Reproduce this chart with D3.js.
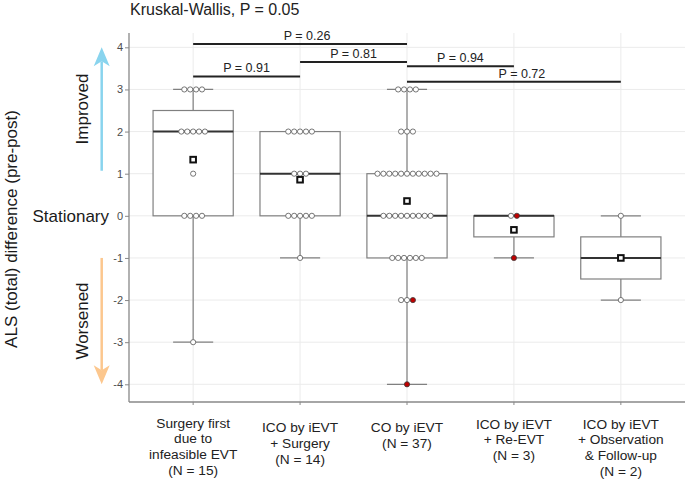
<!DOCTYPE html>
<html>
<head>
<meta charset="utf-8">
<script src="https://cdn.jsdelivr.net/npm/d3@7"></script>
<style>
  html, body { margin: 0; padding: 0; background: #fff; }
  svg { display: block; font-family: "Liberation Sans", Arial, sans-serif; }
</style>
</head>
<body>
<svg id="chart" width="685" height="484"></svg>
<script>
// ---------------- data ----------------
const categories = ["Surgery first", "ICO + Surgery", "CO", "ICO + Re-EVT", "ICO + Observation"];
const categoryLabels = [
  ["Surgery first", "due to", "infeasible EVT", "(N = 15)"],
  ["ICO by iEVT", "+ Surgery", "(N = 14)"],
  ["CO by iEVT", "(N = 37)"],
  ["ICO by iEVT", "+ Re-EVT", "(N = 3)"],
  ["ICO by iEVT", "+ Observation", "& Follow-up", "(N = 2)"]
];
// ALS (total) difference per patient, each group
const surgeryFirst = [3, 3, 3, 3, 2, 2, 2, 2, 2, 1, 0, 0, 0, 0, -3];
const icoSurgery   = [2, 2, 2, 2, 2, 1, 1, 1, 0, 0, 0, 0, 0, -1];
const coEVT        = [3, 3, 3, 3, 2, 2, 2,
                      1, 1, 1, 1, 1, 1, 1, 1, 1, 1, 1,
                      0, 0, 0, 0, 0, 0, 0, 0, 0,
                      -1, -1, -1, -1, -1, -1, -2, -2, -2, -4];
const icoReEVT     = [0, 0, -1];
const icoObs       = [0, -2];
const groupValues = [surgeryFirst, icoSurgery, coEVT, icoReEVT, icoObs];
// values at which one patient is highlighted (red)
const redValues = [[], [], [-2, -4], [0, -1], []];

const yTicks = [-4, -3, -2, -1, 0, 1, 2, 3, 4];
const title = "Kruskal-Wallis, P = 0.05";
const pLabels = ["P = 0.26", "P = 0.91", "P = 0.81", "P = 0.94", "P = 0.72"];
const pPairs  = [[0, 2], [0, 1], [1, 2], [2, 3], [2, 4]];
const pLevels = [4.08, 3.31, 3.65, 3.55, 3.18];

// ---------------- layout ----------------
const svg = d3.select("#chart");
const panel = { left: 129, right: 685, top: 33, bottom: 402 };
const font = '"Liberation Sans", Arial, sans-serif';

const x = d3.scaleBand().domain(categories)
  .range([panel.left, panel.right]).paddingInner(0).paddingOuter(0.1);
const cx = i => x(categories[i]) + x.bandwidth() / 2;
const y = d3.scaleLinear().domain([-4.42, 4.34]).range([panel.bottom, panel.top]);

const boxW = x.bandwidth() * 0.75;
const capW = boxW / 2;

// grid
const grid = svg.append("g");
grid.selectAll("line.h").data(yTicks).join("line")
  .attr("x1", panel.left).attr("x2", panel.right)
  .attr("y1", d => y(d)).attr("y2", d => y(d))
  .attr("stroke", "#ebebeb").attr("stroke-width", 1);
grid.selectAll("line.v").data(categories).join("line")
  .attr("x1", (d, i) => cx(i)).attr("x2", (d, i) => cx(i))
  .attr("y1", panel.top).attr("y2", panel.bottom)
  .attr("stroke", "#ebebeb").attr("stroke-width", 1);

// axes
const yAxis = svg.append("g").attr("transform", `translate(${panel.left},0)`)
  .call(d3.axisLeft(y).tickValues(yTicks).tickSize(4).tickSizeOuter(0).tickFormat(d => String(d)));
yAxis.select(".domain").remove();
yAxis.selectAll(".tick line").attr("stroke", "#888");
yAxis.selectAll(".tick text").attr("fill", "#4d4d4d").attr("font-size", 11)
  .attr("font-family", font).attr("x", -6);
svg.append("line").attr("x1", panel.left).attr("x2", panel.left)
  .attr("y1", panel.top).attr("y2", panel.bottom)
  .attr("stroke", "#888").attr("stroke-width", 1.3);

const xAxis = svg.append("g").attr("transform", `translate(0,${panel.bottom})`)
  .call(d3.axisBottom(x).tickSize(3).tickSizeOuter(0).tickFormat(""));
xAxis.select(".domain").remove();
xAxis.selectAll(".tick line").attr("stroke", "#888");
svg.append("line").attr("x1", panel.left).attr("x2", panel.right)
  .attr("y1", panel.bottom).attr("y2", panel.bottom)
  .attr("stroke", "#888").attr("stroke-width", 1.3);

// x labels (multi-line)
const labelShift = [-2, 2.5, 2.5, -1, -1];
categoryLabels.forEach((lines, i) => {
  const t = svg.append("text").attr("text-anchor", "middle")
    .attr("font-size", 13.7).attr("fill", "#222").attr("font-family", font);
  lines.forEach((ln, j) => {
    t.append("tspan").attr("x", cx(i)).attr("y", 429.5 + labelShift[i] + j * 15.8).text(ln);
  });
});

// box plots
const boxes = svg.append("g");
groupValues.forEach((vals, i) => {
  const s = vals.slice().sort(d3.ascending);
  const q1 = d3.quantile(s, 0.25), med = d3.quantile(s, 0.5), q3 = d3.quantile(s, 0.75);
  const iqr = q3 - q1;
  const lo = d3.min(s.filter(v => v >= q1 - 1.5 * iqr));
  const hi = d3.max(s.filter(v => v <= q3 + 1.5 * iqr));
  const c = cx(i);
  const g = boxes.append("g");
  const gray = "#808080";
  g.append("line").attr("x1", c).attr("x2", c).attr("y1", y(q3)).attr("y2", y(hi))
    .attr("stroke", gray).attr("stroke-width", 1.2);
  g.append("line").attr("x1", c).attr("x2", c).attr("y1", y(q1)).attr("y2", y(lo))
    .attr("stroke", gray).attr("stroke-width", 1.2);
  [lo, hi].forEach(v => g.append("line")
    .attr("x1", c - capW / 2).attr("x2", c + capW / 2).attr("y1", y(v)).attr("y2", y(v))
    .attr("stroke", gray).attr("stroke-width", 1.2));
  g.append("rect").attr("x", c - boxW / 2).attr("width", boxW)
    .attr("y", y(q3)).attr("height", Math.max(0, y(q1) - y(q3)))
    .attr("fill", "#fff").attr("stroke", gray).attr("stroke-width", 1.2);
  g.append("line").attr("x1", c - boxW / 2).attr("x2", c + boxW / 2)
    .attr("y1", y(med)).attr("y2", y(med)).attr("stroke", "#333").attr("stroke-width", 2);

  // dot plot (centered stacks)
  const counts = d3.rollups(vals, v => v.length, d => d);
  const spacing = 5.9;
  counts.forEach(([v, n]) => {
    const reds = redValues[i].filter(r => r === v).length;
    for (let k = 0; k < n; k++) {
      const px = c + (k - (n - 1) / 2) * spacing;
      const isRed = k >= n - reds;
      g.append("circle").attr("cx", px).attr("cy", y(v)).attr("r", 2.6)
        .attr("fill", isRed ? "#c00000" : "#fff")
        .attr("stroke", isRed ? "#3a3a3a" : "#555").attr("stroke-width", 0.8);
    }
  });

  // mean
  const m = d3.mean(vals);
  const sq = 5.6;
  g.append("rect").attr("x", c - sq / 2).attr("y", y(m) - sq / 2)
    .attr("width", sq).attr("height", sq)
    .attr("fill", "#fff").attr("stroke", "#111").attr("stroke-width", 2);
});

// comparison brackets
const labelNudge = [7, 0, 0, 0, 8];
pPairs.forEach((pr, k) => {
  const yy = y(pLevels[k]);
  svg.append("line").attr("x1", cx(pr[0])).attr("x2", cx(pr[1]))
    .attr("y1", yy).attr("y2", yy).attr("stroke", "#222").attr("stroke-width", 2);
  svg.append("text").attr("x", (cx(pr[0]) + cx(pr[1])) / 2 + labelNudge[k]).attr("y", yy - 4)
    .attr("text-anchor", "middle").attr("font-size", 12.5).attr("fill", "#222")
    .attr("font-family", font).text(pLabels[k]);
});

// title
svg.append("text").attr("x", 130).attr("y", 14.5).attr("font-size", 16)
  .attr("fill", "#222").attr("font-family", font).text(title);

// y axis title and side annotations
svg.append("text").attr("transform", "translate(17,229) rotate(-90)")
  .attr("text-anchor", "middle").attr("font-size", 17).attr("fill", "#1a1a1a")
  .attr("font-family", font).text("ALS (total) difference (pre-post)");
svg.append("text").attr("x", 109).attr("y", y(0) + 6).attr("text-anchor", "end")
  .attr("font-size", 17).attr("fill", "#1a1a1a").attr("font-family", font).text("Stationary");
svg.append("text").attr("transform", "translate(88,109) rotate(-90)")
  .attr("text-anchor", "middle").attr("font-size", 17).attr("fill", "#1a1a1a")
  .attr("font-family", font).text("Improved");
svg.append("text").attr("transform", "translate(88,321) rotate(-90)")
  .attr("text-anchor", "middle").attr("font-size", 17).attr("fill", "#1a1a1a")
  .attr("font-family", font).text("Worsened");

function arrow(x0, yStart, yTip, color) {
  const dir = yTip < yStart ? 1 : -1; // 1 = pointing up
  const headLen = 19, notch = 5, half = 8;
  svg.append("line").attr("x1", x0).attr("x2", x0)
    .attr("y1", yStart).attr("y2", yTip + dir * (headLen - notch))
    .attr("stroke", color).attr("stroke-width", 2.5);
  const p = d3.path();
  p.moveTo(x0, yTip);
  p.lineTo(x0 - half, yTip + dir * headLen);
  p.lineTo(x0, yTip + dir * (headLen - notch));
  p.lineTo(x0 + half, yTip + dir * headLen);
  p.closePath();
  svg.append("path").attr("d", p.toString()).attr("fill", color);
}
arrow(101.7, y(1.07), y(4), "#89d4ee");
arrow(101.7, y(-1), y(-4), "#fcc78e");
</script>
</body>
</html>
